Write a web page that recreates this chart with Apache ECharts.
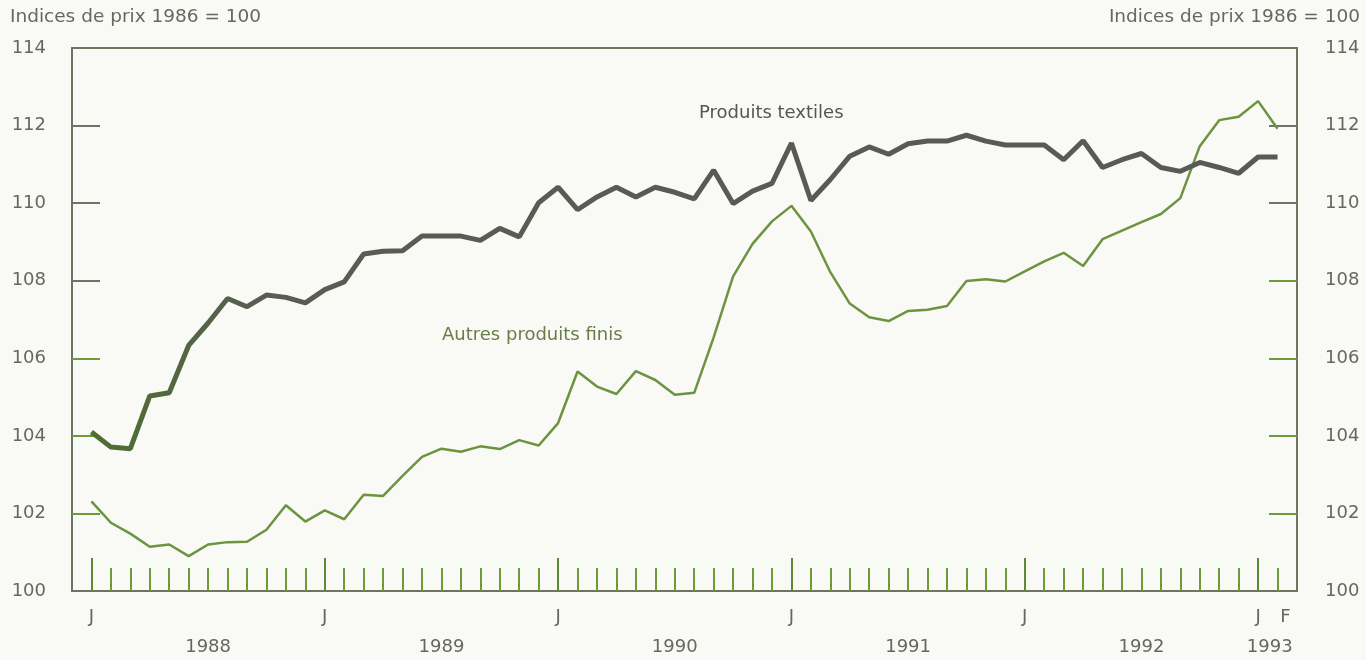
<!DOCTYPE html>
<html><head><meta charset="utf-8">
<script src="https://cdn.jsdelivr.net/npm/echarts@6/dist/echarts.min.js"></script>
<style>html,body{margin:0;padding:0;background:#f9f9f6}#c{width:1366px;height:660px}</style>
</head><body><div id="c"></div>
<script>
// Months: janvier 1988 .. février 1993
const months = [];
for (let y = 1988; y <= 1993; y++) {
  for (let m = 1; m <= 12; m++) {
    if (y === 1993 && m > 2) break;
    months.push(y + '-' + String(m).padStart(2, '0'));
  }
}

// Indices de prix 1986 = 100
const produitsTextiles = [
  104.10, 103.71, 103.67, 105.03, 105.11, 106.33, 106.91, 107.54, 107.33, 107.63, 107.57, 107.43,
  107.77, 107.97, 108.69, 108.76, 108.77, 109.15, 109.15, 109.15, 109.04, 109.35, 109.13, 110.01,
  110.41, 109.83, 110.16, 110.41, 110.16, 110.41, 110.28, 110.11, 110.85, 109.99, 110.31, 110.51,
  111.55, 110.07, 110.61, 111.21, 111.45, 111.26, 111.53, 111.60, 111.60, 111.75, 111.60, 111.50,
  111.50, 111.50, 111.12, 111.61, 110.92, 111.12, 111.28, 110.92, 110.82, 111.05, 110.92, 110.77,
  111.19, 111.19
];
const autresProduitsFinis = [
  102.31, 101.76, 101.48, 101.14, 101.20, 100.90, 101.20, 101.26, 101.27, 101.58, 102.21, 101.79,
  102.08, 101.85, 102.48, 102.45, 102.97, 103.46, 103.67, 103.59, 103.73, 103.66, 103.89, 103.75,
  104.33, 105.66, 105.27, 105.08, 105.67, 105.44, 105.06, 105.11, 106.54, 108.11, 108.95, 109.53,
  109.93, 109.27, 108.22, 107.41, 107.06, 106.96, 107.22, 107.25, 107.35, 107.99, 108.04, 107.98,
  108.24, 108.50, 108.72, 108.38, 109.07, 109.29, 109.51, 109.72, 110.13, 111.47, 112.14, 112.23,
  112.63, 111.92
];

const seriesNames = ['Produits textiles', 'Autres produits finis'];
const axisTitle = 'Indices de prix 1986 = 100';
const leftGrayTicks = [108, 110, 112];
const leftGreenTicks = [102, 104, 106];
const rightGrayTicks = [110, 112];
const rightGreenTicks = [102, 104, 106, 108];
const januaryTicks = [0, 12, 24, 36, 48, 60];
const monthLetterAt = [0, 12, 24, 36, 48, 60, 61.4];
const monthLetters = ['J', 'J', 'J', 'J', 'J', 'J', 'F'];
const yearLabelAt = [6, 18, 30, 42, 54, 60.6];
const yearNames = ['1988', '1989', '1990', '1991', '1992', '1993'];

const FONT = '"DejaVu Sans", "Liberation Sans", Arial, sans-serif';
const GRAY = '#66685e';
const OLIVE = '#6a7d48';
const GREENTICK = '#6e9a3a';
const GRAYTICK = '#6f7366';

const chart = echarts.init(document.getElementById('c'), null, { renderer: 'canvas' });

const allMonthIdx = months.map((m, i) => i);

function xBase(extra) {
  return Object.assign({
    type: 'value', min: -1, max: 62, gridIndex: 0, position: 'bottom',
    axisLine: { show: false, onZero: false }, splitLine: { show: false },
    axisTick: { show: false }, axisLabel: { show: false }
  }, extra);
}
function yBase(extra) {
  return Object.assign({
    type: 'value', min: 100, max: 114, interval: 2,
    axisLine: { show: false, onZero: false }, splitLine: { show: false },
    axisTick: { show: false }, axisLabel: { show: false }
  }, extra);
}
function yTicks(pos, values, color) {
  return yBase({
    position: pos,
    axisTick: { show: true, inside: true, length: 28, customValues: values, lineStyle: { color: color, width: 2 } }
  });
}

chart.setOption({
  backgroundColor: '#f9f9f6',
  animation: false,
  grid: { left: 72, right: 69, top: 48, bottom: 69, show: true, borderColor: '#6d7560', borderWidth: 2, backgroundColor: 'transparent' },
  xAxis: [
    xBase({
      axisTick: { show: true, inside: true, length: 23, customValues: allMonthIdx, lineStyle: { color: '#6e9a3a', width: 2 } },
      axisLabel: {
        show: true, customValues: monthLetterAt, margin: 17,
        formatter: v => monthLetters[monthLetterAt.indexOf(v)],
        color: GRAY, fontSize: 18, fontFamily: FONT
      }
    }),
    xBase({
      axisTick: { show: true, inside: true, length: 33, customValues: januaryTicks, lineStyle: { color: '#5f8a34', width: 2 } }
    }),
    xBase({
      axisLabel: {
        show: true, customValues: yearLabelAt, margin: 47,
        formatter: v => yearNames[yearLabelAt.indexOf(v)],
        color: GRAY, fontSize: 18, fontFamily: FONT
      }
    })
  ],
  yAxis: [
    yBase({
      position: 'left',
      axisTick: { show: true, inside: true, length: 28, customValues: leftGrayTicks, lineStyle: { color: GRAYTICK, width: 2 } },
      axisLabel: { show: true, margin: 26, color: GRAY, fontSize: 18, fontFamily: FONT, verticalAlign: 'middle', padding: [4, 0, 0, 0] }
    }),
    yTicks('left', leftGreenTicks, GREENTICK),
    yBase({
      position: 'right',
      axisTick: { show: true, inside: true, length: 28, customValues: rightGrayTicks, lineStyle: { color: GRAYTICK, width: 2 } },
      axisLabel: { show: true, margin: 28, color: GRAY, fontSize: 18, fontFamily: FONT, verticalAlign: 'middle', padding: [4, 0, 0, 0] }
    }),
    yTicks('right', rightGreenTicks, GREENTICK)
  ],
  graphic: [
    { type: 'text', left: 10, top: 8, style: { text: axisTitle, fill: GRAY, fontSize: 18.5, fontFamily: FONT } },
    { type: 'text', right: 6, top: 8, style: { text: axisTitle, fill: GRAY, fontSize: 18.5, fontFamily: FONT } },
    { type: 'text', left: 699, top: 104, style: { text: seriesNames[0], fill: '#55574f', fontSize: 18, fontFamily: FONT } },
    { type: 'text', left: 442, top: 326, style: { text: seriesNames[1], fill: OLIVE, fontSize: 18, fontFamily: FONT } }
  ],
  series: [
    {
      name: seriesNames[1], type: 'line', xAxisIndex: 0, yAxisIndex: 0,
      showSymbol: false, z: 3,
      lineStyle: { width: 2.5, color: '#6c9440' },
      data: autresProduitsFinis.map((v, i) => [i, v])
    },
    {
      name: seriesNames[0], type: 'line', xAxisIndex: 0, yAxisIndex: 0,
      showSymbol: false, z: 4,
      lineStyle: {
        width: 5,
        color: new echarts.graphic.LinearGradient(0, 0, 1, 0, [
          { offset: 0, color: '#4e7030' },
          { offset: 0.15, color: '#585c52' },
          { offset: 1, color: '#585a55' }
        ])
      },
      data: produitsTextiles.map((v, i) => [i, v])
    }
  ]
});
</script>
</body></html>
